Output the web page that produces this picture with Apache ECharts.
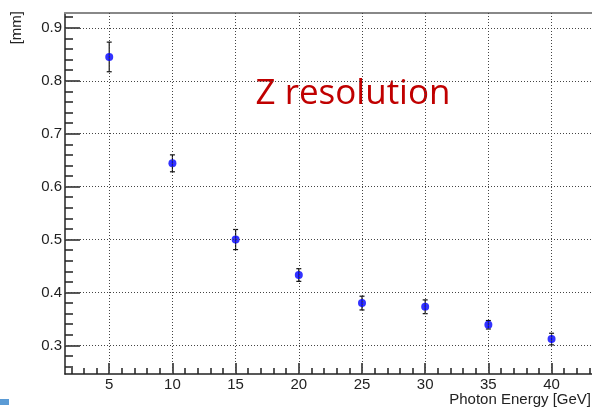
<!DOCTYPE html>
<html>
<head>
<meta charset="utf-8">
<script src="https://cdn.jsdelivr.net/npm/echarts@6/dist/echarts.min.js"></script>
<style>
  html, body { margin: 0; padding: 0; background: #fff; }
  #main { width: 592px; height: 409px; }
</style>
</head>
<body>
<div id="main"></div>
<script>
// photon energy [GeV] and Z resolution [mm] with errors
const energies = [5, 10, 15, 20, 25, 30, 35, 40];
const zRes = [0.845, 0.644, 0.500, 0.433, 0.380, 0.373, 0.339, 0.312];
const zErr = [0.028, 0.016, 0.019, 0.012, 0.013, 0.013, 0.008, 0.011];

const xTicks = [5, 10, 15, 20, 25, 30, 35, 40];
const yTicks = [0.3, 0.4, 0.5, 0.6, 0.7, 0.8, 0.9];

const X_MIN = 1.5, X_MAX = 43.2;
const Y_MIN = 0.246, Y_MAX = 0.928;

// minor ticks, ROOT style
const xMinor = [];
for (let v = 2; v <= 43; v++) xMinor.push(v);
const yMinor = [];
for (let i = 13; i <= 46; i++) yMinor.push(+(i * 0.02).toFixed(2));

const font = 'Liberation Sans, Arial, sans-serif';
const chart = echarts.init(document.getElementById('main'), null, { renderer: 'canvas' });

const gridStyle = { color: '#444', width: 1, type: [1, 2] };

const option = {
    animation: false,
    grid: { left: 65, right: 0, top: 13, bottom: 35 },
    xAxis: [{
        type: 'value', min: X_MIN, max: X_MAX, position: 'bottom',
        axisLine: { show: true, lineStyle: { color: '#222', width: 1.5 } },
        axisTick: { show: true, inside: true, length: 11, customValues: xTicks, lineStyle: { color: '#222', width: 1.5 } },
        axisLabel: { customValues: xTicks, color: '#222', fontSize: 15, fontFamily: font, margin: 3 },
        splitLine: { show: false }
    }, {
        type: 'value', min: X_MIN, max: X_MAX, position: 'bottom',
        axisLine: { show: false },
        axisTick: { show: true, inside: true, length: 6, customValues: xMinor, lineStyle: { color: '#222', width: 1.5 } },
        axisLabel: { show: false },
        splitLine: { show: false }
    }, {
        type: 'value', min: X_MIN, max: X_MAX, position: 'top',
        axisLine: { show: true, lineStyle: { color: '#888', width: 2 } },
        axisTick: { show: false }, axisLabel: { show: false }, splitLine: { show: false }
    }],
    yAxis: [{
        type: 'value', min: Y_MIN, max: Y_MAX, position: 'left',
        axisLine: { show: true, lineStyle: { color: '#222', width: 1.5 } },
        axisTick: { show: true, inside: true, length: 15, customValues: yTicks, lineStyle: { color: '#222', width: 1.5 } },
        axisLabel: { customValues: yTicks, color: '#222', fontSize: 15, fontFamily: font, margin: 3,
            formatter: v => v.toFixed(1) },
        splitLine: { show: false }
    }, {
        type: 'value', min: Y_MIN, max: Y_MAX, position: 'left',
        axisLine: { show: false },
        axisTick: { show: true, inside: true, length: 8, customValues: yMinor, lineStyle: { color: '#222', width: 1.5 } },
        axisLabel: { show: false },
        splitLine: { show: false }
    }],
    graphic: [
        { type: 'text', x: 591, y: 400, style: { text: 'Photon Energy [GeV]', fill: '#222', fontSize: 15, fontFamily: font, align: 'right', verticalAlign: 'middle' } },
        { type: 'text', x: 17, y: 11, rotation: Math.PI / 2, style: { text: '[mm]', fill: '#222', fontSize: 15, fontFamily: font, align: 'right', verticalAlign: 'middle' } },
        { type: 'text', x: 353, y: 94, style: { text: 'Z resolution', fill: '#c00000', fontSize: 35, fontFamily: 'Open Sans, sans-serif', align: 'center', verticalAlign: 'middle' } },
        { type: 'rect', shape: { x: 0, y: 399, width: 9, height: 6 }, style: { fill: '#5b9bd5' } }
    ],
    series: [{
        // dotted grid at the major ticks
        type: 'line', data: [], xAxisIndex: 0, yAxisIndex: 0, z: 1, silent: true,
        markLine: {
            silent: true, symbol: 'none', label: { show: false },
            lineStyle: gridStyle,
            data: xTicks.map(v => ({ xAxis: v })).concat(yTicks.map(v => ({ yAxis: v })))
        }
    }, {
        type: 'custom', xAxisIndex: 0, yAxisIndex: 0, z: 3, silent: true,
        data: energies.map((e, i) => [e, zRes[i] - zErr[i], zRes[i] + zErr[i]]),
        renderItem: function (params, api) {
            const lo = api.coord([api.value(0), api.value(1)]);
            const hi = api.coord([api.value(0), api.value(2)]);
            const c = 2.5;
            const st = { stroke: '#111', lineWidth: 1.2 };
            return {
                type: 'group',
                children: [
                    { type: 'line', shape: { x1: lo[0], y1: lo[1], x2: hi[0], y2: hi[1] }, style: st },
                    { type: 'line', shape: { x1: lo[0] - c, y1: lo[1], x2: lo[0] + c, y2: lo[1] }, style: st },
                    { type: 'line', shape: { x1: hi[0] - c, y1: hi[1], x2: hi[0] + c, y2: hi[1] }, style: st }
                ]
            };
        }
    }, {
        type: 'scatter', xAxisIndex: 0, yAxisIndex: 0, z: 4,
        symbol: 'circle', symbolSize: 8,
        itemStyle: { color: '#0000ff' },
        data: energies.map((e, i) => [e, zRes[i]])
    }]
};

chart.setOption(option);
</script>
</body>
</html>
